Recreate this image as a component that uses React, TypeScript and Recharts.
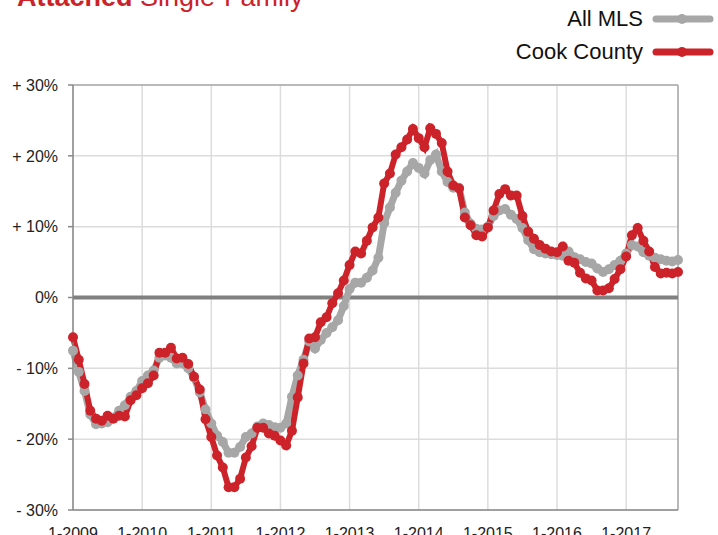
import { LineChart, Line, XAxis, YAxis, CartesianGrid, ReferenceLine } from "recharts";

// monthly, 1-2009 .. 10-2017, year-over-year % change
const allMls = [
  -7.5, -10.5, -13.2, -16.5, -17.9, -17.8, -17.6, -17, -16, -15.2,
  -14, -13.2, -11.8, -11, -10.3, -8.5, -8.2, -8.5, -9.3, -9.3,
  -10, -11.3, -13.4, -15.8, -17.8, -19.5, -20.4, -21.9, -21.9, -21.1,
  -19.7, -19.2, -18.2, -17.8, -18, -18.3, -18.4, -17.8, -14, -11,
  -8.8, -6.2, -7.2, -6, -5, -4.2, -3.2, -1.2, 1.2, 2.1,
  2.1, 2.8, 3.8, 5.6, 10.5, 12.7, 14.8, 16.5, 17.8, 19,
  18.3, 17.5, 19.4, 20.2, 17.8, 16.3, 15.5, 15.5, 12, 10.4,
  9.7, 9.6, 10, 11.5, 12.3, 12.5, 11.7, 11.1, 9.8, 8.1,
  6.8, 6.4, 6.2, 6.1, 6, 5.9, 6.5, 5.7, 5.4, 5,
  4.8, 4.1, 3.6, 4, 4.6, 5.2, 6.2, 7.4, 7.2, 6.4,
  5.9, 5.6, 5.4, 5.2, 5.1, 5.3,
];

const cookCounty = [
  -5.6, -8.8, -12.2, -16, -17.1, -17.4, -16.7, -17.1, -16.7, -16.8,
  -14.5, -13.8, -12.8, -12.1, -11, -7.8, -7.8, -7.1, -8.6, -8.5,
  -9.4, -11.2, -13, -17.2, -19.7, -22.3, -24, -26.8, -26.8, -25.6,
  -22.6, -21, -18.4, -18.4, -19.2, -19.5, -20.2, -20.9, -18.8, -14.1,
  -9.3, -5.8, -5.6, -3.5, -2.8, -0.8, 0.6, 2.4, 4.6, 6.5,
  6.2, 8, 9.9, 11.3, 16.1, 17.5, 20.2, 21.2, 22.3, 23.8,
  22.5, 21.2, 23.9, 23.1, 21.8, 17.8, 15.8, 15.4, 11.3, 10.2,
  8.8, 8.6, 9.9, 12.3, 14.6, 15.3, 14.4, 14.4, 11.5, 9.3,
  8.3, 7.4, 6.9, 6.5, 6.4, 7.2, 5.2, 4.9, 3.5, 2.7,
  2.4, 1, 1, 1.3, 2.6, 4, 5.8, 8.8, 9.8, 8,
  6.5, 4.3, 3.4, 3.5, 3.4, 3.6,
];

const yearLabels = ["1-2009", "1-2010", "1-2011", "1-2012", "1-2013", "1-2014", "1-2015", "1-2016", "1-2017"];
const yTicks = [-30, -20, -10, 0, 10, 20, 30];

const data = allMls.map((v, i) => ({ m: i, allMls: v, cook: cookCounty[i] }));
const xTicks = yearLabels.map((_, i) => i * 12);

const RED = "#cc2229";
const GRAY = "#a7a7a7";
const FONT = "'Liberation Sans', Arial, Helvetica, sans-serif";

const fmtY = (v: number) => (v > 0 ? `+ ${v}%` : v < 0 ? `- ${-v}%` : "0%");

export default function App() {
  return (
    <div style={{ position: "absolute", left: 0, top: 0, width: 718, height: 535, background: "#fff", fontFamily: FONT }}>
      <LineChart width={718} height={535} data={data} margin={{ top: 85, right: 40, bottom: 0, left: 13 }}>
        <CartesianGrid stroke="#dcdcdc" strokeWidth={1.5} />
        <XAxis
          dataKey="m"
          type="number"
          domain={[0, 105]}
          ticks={xTicks}
          tickFormatter={(v: number) => yearLabels[v / 12]}
          interval={0}
          height={25}
          axisLine={{ stroke: "#888", strokeWidth: 1.5 }}
          tickLine={false}
          tickMargin={12}
          tick={{ fill: "#222", fontSize: 16, fontFamily: FONT }}
        />
        <YAxis
          type="number"
          domain={[-30, 30]}
          ticks={yTicks}
          tickFormatter={fmtY}
          width={60}
          axisLine={{ stroke: "#888", strokeWidth: 1.5 }}
          tickLine={{ stroke: "#888", strokeWidth: 1.5 }}
          tickSize={5}
          tickMargin={10}
          tick={{ fill: "#222", fontSize: 16, fontFamily: FONT }}
        />
        <ReferenceLine y={30} stroke="#aaa" strokeWidth={1.5} />
        <ReferenceLine x={105} stroke="#aaa" strokeWidth={1.5} />
        <ReferenceLine y={0} stroke="#808080" strokeWidth={4} />
        <Line
          dataKey="allMls"
          stroke={GRAY}
          strokeWidth={7}
          dot={{ r: 5, fill: GRAY, stroke: "none" }}
          isAnimationActive={false}
        />
        <Line
          dataKey="cook"
          stroke={RED}
          strokeWidth={6}
          dot={{ r: 5, fill: RED, stroke: "none" }}
          isAnimationActive={false}
        />
      </LineChart>
      <svg width={718} height={70} style={{ position: "absolute", left: 0, top: 0, pointerEvents: "none" }}>
        <text x={17} y={6} fill={RED} fontSize={27} fontFamily={FONT}>
          <tspan fontWeight="bold">Attached</tspan>
          <tspan> Single-Family</tspan>
        </text>
        <text x={643} y={26} textAnchor="end" fill="#111" fontSize={22} fontFamily={FONT}>All MLS</text>
        <line x1={656} x2={710} y1={19} y2={19} stroke={GRAY} strokeWidth={7} strokeLinecap="round" />
        <circle cx={682} cy={19} r={5} fill={GRAY} />
        <text x={643} y={59} textAnchor="end" fill="#111" fontSize={22} fontFamily={FONT}>Cook County</text>
        <line x1={656} x2={710} y1={52} y2={52} stroke={RED} strokeWidth={7} strokeLinecap="round" />
        <circle cx={682} cy={52} r={5} fill={RED} />
      </svg>
    </div>
  );
}
